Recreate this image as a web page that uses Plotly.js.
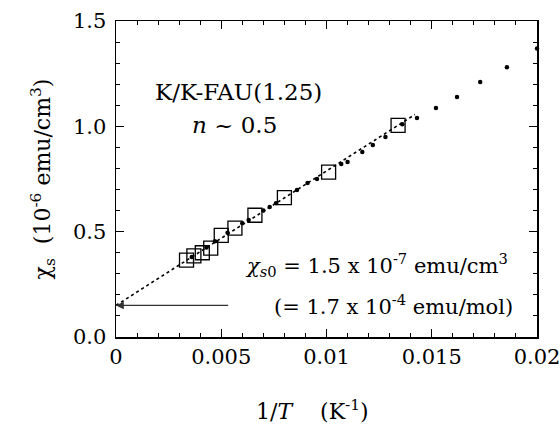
<!DOCTYPE html>
<html><head><meta charset="utf-8">
<script src="https://cdn.plot.ly/plotly-3.0.1.min.js"></script>
<style>html,body{margin:0;padding:0;background:#fff}#plot{width:560px;height:427px}</style>
</head><body><div id="plot"></div>
<script>
// Data (1/T in K^-1, chi_s in 10^-6 emu/cm^3)
const squareX = [0.00335, 0.0037, 0.0041, 0.0045, 0.0050, 0.00565, 0.0066, 0.0080, 0.0101, 0.0134];
const squareY = [0.365, 0.385, 0.400, 0.422, 0.482, 0.517, 0.578, 0.662, 0.783, 1.005];
const dotX = [0.0036, 0.0043, 0.0047, 0.0053, 0.0060, 0.0063, 0.0070, 0.0073, 0.0076, 0.0086, 0.0091, 0.00955, 0.0107, 0.0110, 0.0117, 0.0122, 0.0128, 0.0136, 0.0143, 0.0152, 0.0162, 0.0173, 0.01857, 0.0200];
const dotY = [0.38, 0.425, 0.455, 0.495, 0.54, 0.555, 0.60, 0.617, 0.635, 0.698, 0.731, 0.75, 0.821, 0.831, 0.878, 0.911, 0.949, 1.01, 1.04, 1.087, 1.139, 1.21, 1.28, 1.37];
const fitX = [0, 0.0142];
const fitY = [0.15, 1.056];
const chiS0 = 0.15;
const arrowFromX = 0.0054;
const xTickVals = [0, 0.005, 0.01, 0.015, 0.02];
const xTickText = ["0", "0.005", "0.01", "0.015", "0.02"];
const yTickVals = [0, 0.5, 1.0, 1.5];
const yTickText = ["0.0", "0.5", "1.0", "1.5"];

const F = "DejaVu Serif";
const TICK = 21;
const traces = [
  {x: fitX, y: fitY, mode: "lines", line: {color: "#000", width: 1.6, dash: "dot"}, hoverinfo: "skip"},
  {x: dotX, y: dotY, mode: "markers", marker: {symbol: "circle", size: 4.5, color: "#000"}, cliponaxis: false},
  {x: squareX, y: squareY, mode: "markers", marker: {symbol: "square-open", size: 14, color: "#000", line: {width: 1.3, color: "#000"}}}
];
const axBase = {
  showgrid: false, zeroline: false, showline: true, linecolor: "#000", linewidth: 1.5,
  mirror: "allticks", ticks: "inside", ticklen: 8, tickwidth: 1.3, tickcolor: "#000",
  tickfont: {family: F, size: TICK, color: "#000"}, ticklabeloverflow: "allow",
  minor: {ticks: "inside", ticklen: 4, tickwidth: 1, tickcolor: "#000", showgrid: false}
};
const layout = {
  width: 560, height: 427, showlegend: false,
  font: {family: F, color: "#000", size: 22},
  paper_bgcolor: "#fff", plot_bgcolor: "#fff",
  margin: {l: 116, r: 23, t: 21, b: 90},
  xaxis: Object.assign({}, axBase, {range: [0, 0.02], tickvals: xTickVals, ticktext: xTickText, minor: Object.assign({}, axBase.minor, {dtick: 0.001, tick0: 0})}),
  yaxis: Object.assign({}, axBase, {range: [0, 1.5], tickvals: yTickVals, ticktext: yTickText, ticklabelstandoff: 4,
    minor: Object.assign({}, axBase.minor, {dtick: 0.1, tick0: 0}),
    title: {text: "χ<sub>s</sub>  (10<sup>-6</sup> emu/cm<sup>3</sup>)", font: {family: F, size: 22, color: "#000"}, standoff: 16}}),
  annotations: [
    {xref: "x", yref: "y", x: 0, y: chiS0, axref: "x", ayref: "y", ax: arrowFromX, ay: chiS0,
     showarrow: true, arrowhead: 2, arrowsize: 1.2, arrowwidth: 1.3, arrowcolor: "#333", text: ""},
    {xref: "paper", yref: "paper", x: (312 - 116) / 421, y: (337 - 410) / 316, xanchor: "center", yanchor: "middle", showarrow: false,
     text: "1/<i>T</i>    (K<sup>-1</sup>)", font: {family: F, size: 22, color: "#000"}},
    {xref: "paper", yref: "paper", x: (153 - 116) / 421, y: (337 - 92) / 316, xanchor: "left", yanchor: "middle", showarrow: false,
     text: "K/K-FAU(1.25)", font: {family: F, size: 23, color: "#000"}},
    {xref: "paper", yref: "paper", x: (190 - 116) / 421, y: (337 - 125) / 316, xanchor: "left", yanchor: "middle", showarrow: false,
     text: "<i>n</i> ~ 0.5", font: {family: F, size: 23, color: "#000"}},
    {xref: "paper", yref: "paper", x: (243 - 116) / 421, y: (337 - 265) / 316, xanchor: "left", yanchor: "middle", showarrow: false,
     text: "<i>χ</i><sub><i>s</i>0</sub> = 1.5 x 10<sup>-7</sup> emu/cm<sup>3</sup>", font: {family: F, size: 21, color: "#000"}},
    {xref: "paper", yref: "paper", x: (272 - 116) / 421, y: (337 - 305) / 316, xanchor: "left", yanchor: "middle", showarrow: false,
     text: "(= 1.7 x 10<sup>-4</sup> emu/mol)", font: {family: F, size: 21, color: "#000"}}
  ]
};
Plotly.newPlot("plot", traces, layout, {staticPlot: true, displayModeBar: false});
</script></body></html>
